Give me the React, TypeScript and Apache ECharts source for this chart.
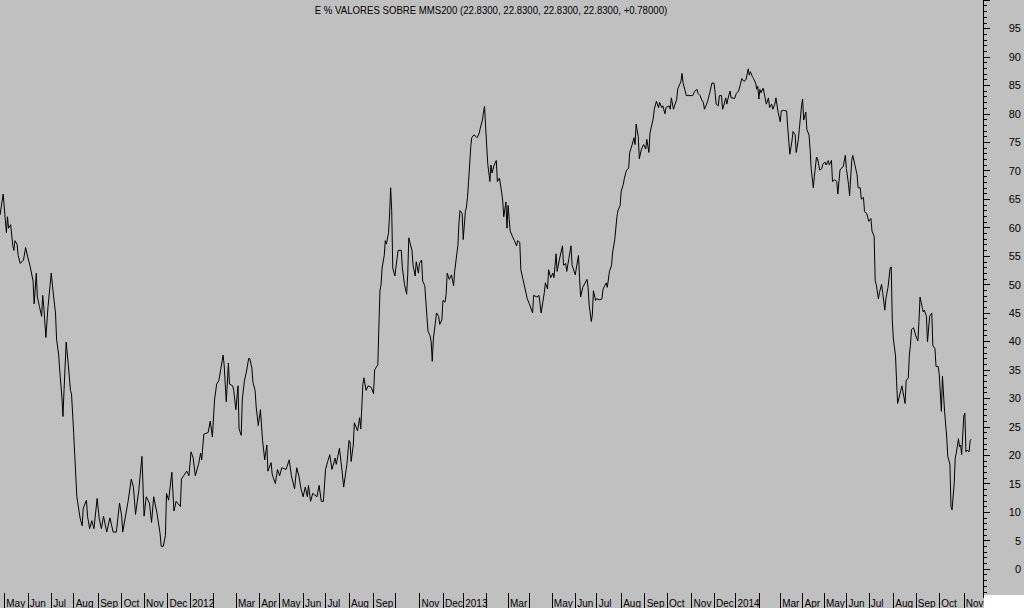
import React, { useEffect, useRef } from 'react';
import * as echarts from 'echarts';

const TITLE = 'E % VALORES SOBRE MMS200 (22.8300, 22.8300, 22.8300, 22.8300, +0.78000)';
const FIRST_SESSION = [2011, 3, 26];
const SESSION_COUNT = 922;
const HOLIDAYS = [
  '2011-12-26', '2012-04-06', '2012-04-09', '2012-05-01', '2012-12-25', '2012-12-26',
  '2013-01-01', '2013-03-29', '2013-04-01', '2013-05-01', '2013-12-25', '2013-12-26',
  '2014-01-01', '2014-04-18', '2014-04-21', '2014-05-01', '2014-12-25', '2014-12-26',
];
const MONTHS = ['Jan', 'Feb', 'Mar', 'Apr', 'May', 'Jun', 'Jul', 'Aug', 'Sep', 'Oct', 'Nov', 'Dec'];
const UNLABELLED_MONTHS = ['2012-02', '2012-10', '2013-02', '2013-04', '2014-02'];

// [session index, % of stocks above their 200-session moving average]
const values2011: [number, number][] = [
  [0, 62.2], [3, 65.9], [5, 61.3], [6, 59.1], [7, 61.9], [8, 59.9], [10, 60.5], [12, 56.8], [13, 56.0], [14, 57.7],
  [16, 57.1], [17, 55.1], [19, 53.7], [22, 54.3], [24, 56.5], [26, 54.8], [28, 53.4], [31, 50.6], [32, 46.6], [34, 52.0],
  [35, 47.8], [37, 46.1], [39, 44.4], [40, 48.1], [41, 46.1], [43, 40.7], [45, 46.1], [47, 50.0], [48, 52.0], [50, 48.3],
  [52, 45.0], [53, 40.4], [55, 37.6], [56, 34.8], [58, 30.2], [59, 26.8], [60, 31.4], [62, 39.9], [64, 35.9], [66, 31.4],
  [67, 30.8], [69, 24.0], [70, 20.1], [72, 12.7], [75, 9.0], [77, 7.6], [78, 10.7], [81, 12.1], [82, 9.3], [84, 7.1],
  [86, 8.5], [88, 7.1], [91, 12.4], [93, 8.8], [95, 7.1], [97, 9.3], [100, 6.5], [103, 9.0], [106, 6.5], [109, 6.5],
  [112, 11.6], [114, 9.3], [115, 6.5], [120, 11.9], [123, 15.8], [125, 14.4], [127, 9.6], [130, 13.8], [133, 19.8], [135, 9.3],
  [137, 12.7], [140, 11.6], [142, 8.2], [144, 12.7], [147, 9.9], [150, 6.2], [151, 4.0], [153, 4.0], [155, 5.9], [156, 13.3],
  [158, 12.1], [161, 17.0], [163, 10.2], [165, 11.9], [169, 11.0], [170, 15.8], [172, 16.4], [175, 17.2], [177, 16.4],
];

const values2012: [number, number][] = [
  [179, 20.6], [181, 19.5], [183, 16.4], [186, 18.4], [188, 20.4], [189, 19.2], [191, 23.7], [195, 24.0], [197, 26.0], [199, 23.2],
  [201, 29.7], [203, 32.5], [205, 33.1], [207, 35.3], [209, 37.6], [210, 35.9], [212, 29.4], [214, 36.2], [215, 32.5], [218, 32.2],
  [219, 31.4], [221, 28.0], [223, 32.2], [224, 24.6], [226, 23.5], [227, 29.7], [229, 33.1], [231, 34.8], [233, 37.0], [234, 37.0],
  [236, 35.3], [237, 32.8], [239, 31.4], [240, 28.5], [242, 25.2], [244, 28.0], [246, 22.6], [248, 19.2], [250, 21.8], [251, 17.2],
  [254, 18.7], [255, 16.7], [258, 15.0], [260, 17.5], [262, 16.4], [264, 17.8], [268, 17.5], [271, 19.2], [273, 16.4], [276, 14.1],
  [278, 17.8], [280, 16.4], [282, 14.1], [284, 12.7], [286, 14.4], [288, 12.7], [289, 14.7], [291, 11.9], [293, 13.3], [297, 12.7],
  [299, 14.7], [301, 11.9], [303, 11.9], [305, 17.5], [307, 18.9], [309, 20.1], [311, 17.5], [314, 19.5], [315, 18.4], [318, 21.2],
  [320, 18.1], [322, 14.4], [325, 18.4], [327, 22.6], [328, 22.3], [329, 18.9], [331, 21.8], [332, 25.7], [335, 24.3], [337, 26.6],
  [338, 24.6], [340, 32.5], [341, 33.6], [343, 31.4], [345, 32.2], [348, 31.9], [350, 30.8], [351, 35.0], [354, 35.9], [355, 42.7],
  [356, 48.9], [357, 50.0], [358, 52.9], [360, 55.1], [361, 57.7], [362, 57.1], [364, 59.1], [365, 62.2], [366, 67.0], [367, 63.0],
  [368, 52.9], [370, 51.5], [372, 54.6], [373, 56.0], [376, 56.0], [377, 52.9], [379, 50.0], [381, 48.3], [382, 51.7], [383, 58.2],
  [386, 56.0], [387, 53.4], [389, 51.5], [390, 54.0], [392, 52.0], [393, 53.7], [395, 54.3], [396, 50.6], [398, 49.8], [400, 44.4],
  [401, 41.8], [403, 41.0], [404, 39.9], [405, 36.5], [406, 40.4], [409, 45.0], [411, 44.4], [412, 43.0], [414, 43.8], [415, 47.2],
  [417, 46.9], [418, 48.3], [419, 52.0], [421, 50.9], [423, 51.7], [425, 49.8], [426, 52.3], [428, 55.4], [429, 56.8], [430, 60.8],
  [431, 63.0], [433, 62.5],
];

const values2013: [number, number][] = [
  [434, 57.9], [436, 62.8], [437, 63.6], [438, 65.3], [439, 68.1], [440, 71.0], [441, 74.1], [442, 75.8], [444, 76.3], [446, 76.0],
  [447, 75.8], [449, 76.6], [450, 77.5], [452, 78.9], [453, 80.3], [454, 81.3], [455, 77.7], [456, 74.4], [457, 71.2], [459, 68.1],
  [460, 71.0], [461, 69.6], [463, 71.0], [465, 71.8], [466, 68.1], [468, 68.7], [470, 66.2], [471, 64.7], [472, 61.9], [474, 64.5],
  [475, 59.9], [476, 63.9], [478, 59.4], [480, 58.5], [482, 57.7], [484, 56.8], [485, 57.7], [487, 57.4], [488, 52.6], [490, 50.9],
  [492, 49.2], [494, 47.5], [496, 46.6], [499, 45.0], [500, 48.1], [503, 47.8], [505, 48.1], [507, 45.0], [510, 48.6], [511, 50.3],
  [513, 49.2], [514, 52.6], [516, 51.2], [518, 52.0], [519, 51.2], [521, 55.4], [522, 52.3], [524, 54.3], [527, 56.8], [528, 53.4],
  [530, 53.7], [531, 52.3], [533, 54.6], [535, 56.8], [536, 53.4], [539, 51.7], [540, 52.9], [542, 55.1], [543, 51.2], [544, 47.8],
  [546, 49.5], [550, 50.9], [551, 49.5], [552, 46.4], [554, 43.5], [555, 44.7], [556, 48.9], [558, 47.2], [559, 47.5], [562, 47.3],
  [564, 47.5], [565, 49.2], [568, 50.3], [569, 49.5], [571, 52.3], [573, 53.4], [574, 55.7], [576, 57.9], [578, 61.9], [579, 63.0],
  [581, 63.9], [582, 66.4], [584, 67.6], [585, 68.7], [587, 70.1], [589, 70.4], [590, 73.2], [592, 74.4], [594, 75.8], [595, 74.6],
  [596, 78.2], [598, 76.0], [599, 72.1], [601, 73.8], [603, 74.6], [605, 73.8], [606, 75.5], [608, 73.2], [609, 76.6], [610, 77.5],
  [612, 79.1], [613, 80.8], [615, 82.2], [617, 81.1], [618, 82.0], [620, 81.1], [621, 81.4], [623, 80.0], [624, 81.1], [627, 81.4],
  [628, 80.8], [629, 82.8], [631, 80.8], [632, 81.4], [634, 82.5], [635, 84.4], [636, 84.8], [638, 85.7], [639, 87.1], [640, 85.4],
  [642, 84.0], [643, 83.2], [649, 83.2], [651, 84.0], [653, 84.3], [654, 83.6], [656, 83.2], [657, 82.6], [659, 82.0], [660, 80.8],
  [662, 81.7], [663, 82.2], [665, 83.7], [667, 85.4], [669, 85.4], [670, 83.7], [671, 81.7], [673, 81.4], [674, 83.2], [676, 83.2],
  [677, 80.8], [678, 81.4], [680, 82.8], [681, 81.7], [682, 82.6], [684, 84.0], [685, 82.8], [687, 82.8], [688, 82.6],
];

const values2014: [number, number][] = [
  [690, 83.6], [692, 84.0], [694, 85.4], [695, 86.2], [697, 85.7], [699, 86.0], [701, 87.9], [702, 86.8], [703, 87.4], [705, 86.5],
  [706, 86.2], [708, 85.4], [709, 84.3], [710, 84.8], [711, 82.6], [712, 84.3], [713, 83.7], [715, 84.5], [716, 83.6], [718, 81.7],
  [720, 82.8], [721, 81.1], [723, 81.7], [724, 80.8], [726, 81.7], [727, 82.8], [729, 80.3], [731, 78.6], [732, 80.5], [734, 80.6],
  [737, 80.5], [738, 77.7], [740, 72.9], [742, 75.2], [743, 76.9], [745, 76.3], [746, 73.2], [748, 75.5], [749, 77.5], [751, 81.4],
  [752, 82.6], [753, 78.9], [755, 80.3], [756, 77.2], [758, 76.3], [759, 73.8], [760, 70.4], [762, 67.0], [763, 69.0], [765, 72.4],
  [766, 72.1], [768, 70.1], [770, 70.4], [771, 71.2], [773, 71.5], [774, 71.0], [776, 71.8], [777, 71.0], [779, 71.8], [780, 68.1],
  [782, 68.4], [784, 68.1], [785, 65.9], [787, 70.1], [788, 70.4], [790, 70.7], [792, 72.7], [793, 70.4], [795, 67.6], [796, 65.6],
  [798, 71.8], [799, 72.7], [801, 71.0], [803, 69.3], [804, 67.0], [806, 67.0], [807, 65.0], [809, 65.3], [810, 62.8], [812, 62.5],
  [814, 61.1], [816, 61.6], [817, 59.4], [819, 58.5], [820, 50.6], [821, 50.0], [823, 47.5], [824, 48.6], [826, 50.0], [827, 48.6],
  [829, 45.5], [830, 47.5], [832, 49.5], [834, 52.9], [835, 53.1], [836, 43.8], [837, 40.4], [839, 37.6], [840, 33.1], [841, 29.1],
  [844, 31.4], [845, 32.2], [848, 29.1], [849, 33.1], [851, 33.6], [852, 37.6], [853, 39.3], [854, 42.1], [856, 42.4], [858, 41.0],
  [860, 40.1], [861, 43.5], [862, 47.8], [863, 46.9], [865, 45.2], [866, 45.5], [868, 44.4], [869, 39.9], [871, 44.4], [873, 45.0],
  [874, 39.3], [876, 38.7], [877, 35.6], [879, 35.6], [880, 34.2], [882, 27.7], [883, 33.9], [885, 27.7], [887, 23.2], [888, 19.8],
  [890, 18.4], [891, 11.0], [892, 10.4], [894, 15.0], [895, 19.5], [896, 20.4], [898, 22.9], [899, 21.5], [900, 21.8], [901, 20.1],
  [903, 26.9], [904, 27.4], [905, 20.6], [906, 20.9], [908, 20.6], [909, 22.6], [910, 22.83],
];

function buildSessions(): string[] {
  const out: string[] = [];
  const d = new Date(Date.UTC(FIRST_SESSION[0], FIRST_SESSION[1], FIRST_SESSION[2]));
  while (out.length < SESSION_COUNT) {
    const wd = d.getUTCDay();
    const iso = d.toISOString().slice(0, 10);
    if (wd !== 0 && wd !== 6 && !HOLIDAYS.includes(iso)) out.push(iso);
    d.setUTCDate(d.getUTCDate() + 1);
  }
  return out;
}

const FONT = '"Liberation Sans", Arial, sans-serif';

export default function App() {
  const ref = useRef<HTMLDivElement>(null);

  useEffect(() => {
    if (!ref.current) return;
    const chart = echarts.init(ref.current, undefined, { renderer: 'svg' });
    const sessions = buildSessions();
    const isMonthStart = (i: number) => i > 0 && sessions[i].slice(0, 7) !== sessions[i - 1].slice(0, 7);
    const series = [...values2011, ...values2012, ...values2013, ...values2014];

    chart.setOption({
      animation: false,
      backgroundColor: '#c0c0c0',
      grid: { left: 0, right: 40.7, top: -21.2, bottom: 10.2, containLabel: false },
      xAxis: {
        type: 'category',
        data: sessions,
        boundaryGap: false,
        offset: -4.5,
        axisLine: { show: false, onZero: false },
        axisTick: { show: true, length: 15, interval: (i: number) => isMonthStart(i), lineStyle: { color: '#000', width: 1 } },
        axisLabel: {
          show: true,
          interval: (i: number) => isMonthStart(i),
          align: 'left',
          margin: 5,
          padding: [0, 0, 0, 2],
          color: '#000',
          fontSize: 10,
          fontFamily: FONT,
          formatter: (v: string) => {
            if (UNLABELLED_MONTHS.includes(v.slice(0, 7))) return '';
            const m = Number(v.slice(5, 7));
            return m === 1 ? v.slice(0, 4) : MONTHS[m - 1];
          },
        },
        splitLine: { show: false },
      },
      yAxis: {
        type: 'value',
        position: 'right',
        min: -5,
        max: 100,
        interval: 5,
        axisLine: { show: true, lineStyle: { color: '#000', width: 1 } },
        axisTick: { show: true, length: 7, lineStyle: { color: '#000', width: 1 } },
        minorTick: { show: true, splitNumber: 5, length: 4, lineStyle: { color: '#000', width: 1 } },
        splitLine: { show: false },
        minorSplitLine: { show: false },
        axisLabel: {
          align: 'right',
          margin: 38,
          color: '#000',
          fontSize: 11,
          fontFamily: FONT,
          formatter: (v: number) => (v < 0 || v > 95 ? '' : String(v)),
        },
      },
      series: [
        {
          type: 'line',
          data: series,
          symbol: 'none',
          showSymbol: false,
          lineStyle: { color: '#000', width: 1 },
          emphasis: { disabled: true },
        },
      ],
      graphic: [
        {
          type: 'text',
          x: 491,
          y: 10,
          scaleX: 0.875,
          style: { text: TITLE, font: `11px ${FONT}`, fill: '#000', align: 'center', verticalAlign: 'middle' },
          silent: true,
        },
        {
          type: 'rect',
          z: 100,
          shape: { x: 984, y: 595, width: 40, height: 13 },
          style: { fill: '#ffffff' },
          silent: true,
        },
      ],
    });

    return () => chart.dispose();
  }, []);

  return (
    <div style={{ position: 'fixed', left: 0, top: 0, width: 1024, height: 608, background: '#c0c0c0' }}>
      <div ref={ref} style={{ width: 1024, height: 608 }} />
    </div>
  );
}
